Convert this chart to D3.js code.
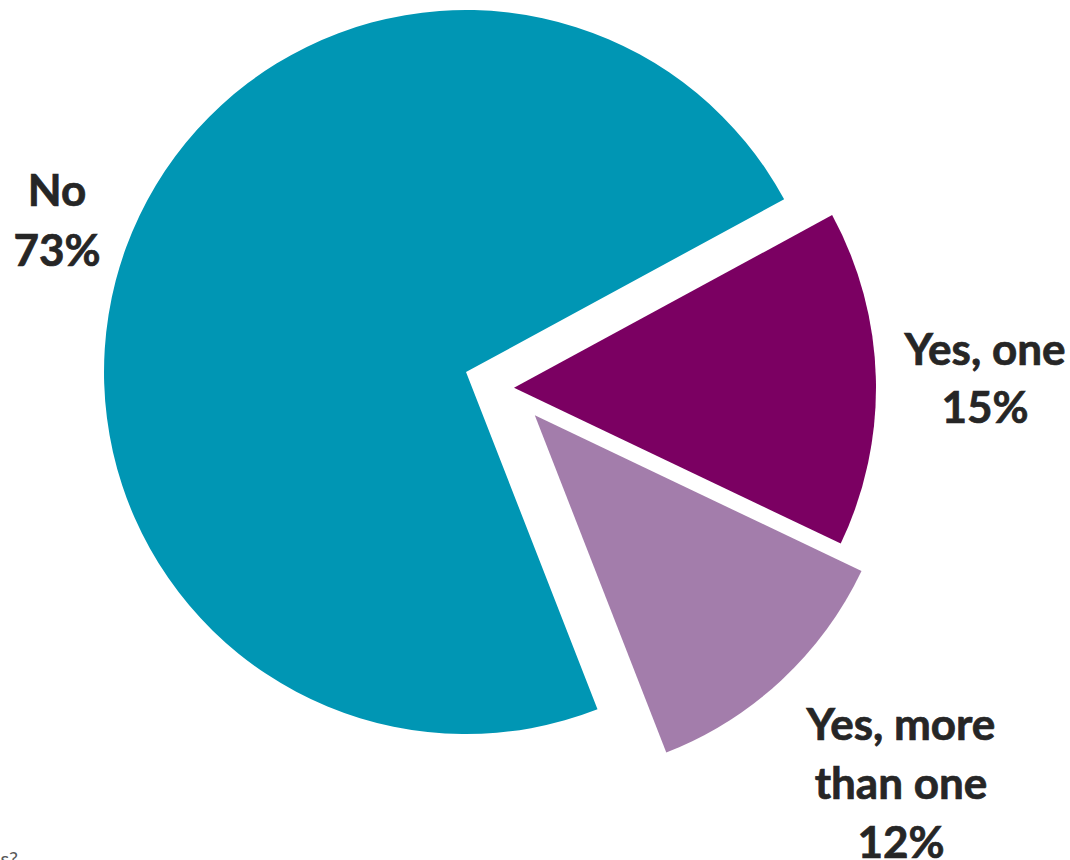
<!DOCTYPE html>
<html>
<head>
<meta charset="utf-8">
<script src="https://cdn.jsdelivr.net/npm/d3@7"></script>
<style>
  html, body { margin: 0; padding: 0; background: #ffffff; }
  svg { display: block; }
</style>
</head>
<body>
<svg id="chart" width="1070" height="860"></svg>
<script>
// ---- data ----
const categories = ["No", "Yes, one", "Yes, more than one"];
const values = [73, 15, 12];
const labelLines = [["No", "73%"], ["Yes, one", "15%"], ["Yes, more", "than one", "12%"]];
const footnote = "s?";

// ---- style / layout ----
const colors = ["#0096B4", "#7B0062", "#A37DAB"];
const explode = [46.2, 4.6, 37.3];
const center = [509.4, 387.9];
const radius = 362;
const startDeg = -201.3;
const labelPos = [[57, 206], [985, 365], [901, 740]];
const lineGap = [60, 58, 59];

const svg = d3.select("#chart");
const pie = d3.pie().sort(null).value(d => d)
  .startAngle(startDeg * Math.PI / 180)
  .endAngle(startDeg * Math.PI / 180 + 2 * Math.PI);
const arc = d3.arc().innerRadius(0).outerRadius(radius);
const arcs = pie(values);

svg.append("g").selectAll("path").data(arcs).join("path")
  .attr("d", arc)
  .attr("fill", (d, i) => colors[i])
  .attr("transform", (d, i) => {
    const mid = (d.startAngle + d.endAngle) / 2;
    const x = center[0] + explode[i] * Math.sin(mid);
    const y = center[1] - explode[i] * Math.cos(mid);
    return `translate(${x},${y})`;
  });

const lg = svg.append("g")
  .attr("font-family", "Lato, 'Open Sans', sans-serif")
  .attr("font-weight", "bold")
  .attr("font-size", 44)
  .attr("fill", "#262626")
  .attr("stroke", "#262626")
  .attr("stroke-width", 0.7)
  .attr("text-anchor", "middle");

labelLines.forEach((lines, i) => {
  const t = lg.append("text").attr("x", labelPos[i][0]).attr("y", labelPos[i][1]);
  lines.forEach((s, j) => {
    t.append("tspan").attr("x", labelPos[i][0]).attr("y", labelPos[i][1] + j * lineGap[i]).text(s);
  });
});

svg.append("text")
  .attr("x", 18).attr("y", 866)
  .attr("text-anchor", "end")
  .attr("font-family", "Lato, sans-serif")
  .attr("font-size", 20)
  .attr("fill", "#595959")
  .text(footnote);
</script>
</body>
</html>
